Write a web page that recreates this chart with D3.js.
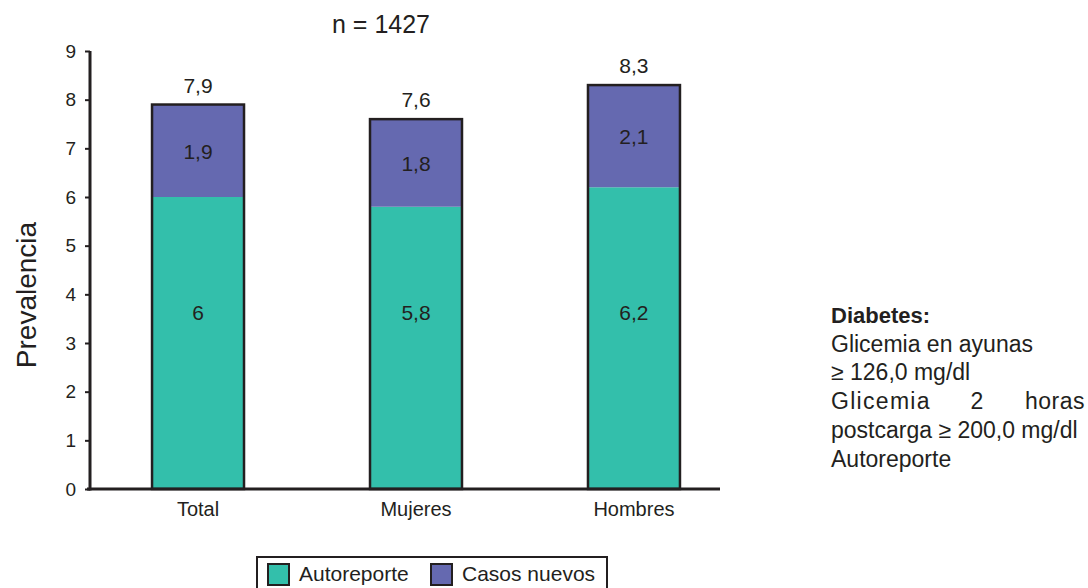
<!DOCTYPE html>
<html>
<head>
<meta charset="utf-8">
<script src="https://cdn.jsdelivr.net/npm/d3@7"></script>
<style>
    body { margin: 0; background: #fff; }
    text { font-family: "Liberation Sans", Arial, sans-serif; fill: #231f20; }
</style>
</head>
<body>
<div id="chart"></div>
<script>
var categories = ["Total", "Mujeres", "Hombres"];
var autoreporte = [6, 5.8, 6.2];
var casosNuevos = [1.9, 1.8, 2.1];
var totales = [7.9, 7.6, 8.3];
var yTicks = [0, 1, 2, 3, 4, 5, 6, 7, 8, 9];
var seriesNames = ["Autoreporte", "Casos nuevos"];
var seriesColors = ["#33bfab", "#6569b0"];
var notes = ["Glicemia en ayunas", "\u2265 126,0 mg/dl", "Glicemia 2 horas", "postcarga \u2265 200,0 mg/dl", "Autoreporte"];

var svg = d3.select("#chart").append("svg").attr("width", 1088).attr("height", 588);

var x = d3.scaleBand().domain(categories).range([91, 741]).paddingInner(0.578).paddingOuter(0.28);
var y = d3.scaleLinear().domain([0, 9]).range([489, 51]);

function fmt(v) {
    return String(v).replace(".", ",");
}

// title
svg.append("text").attr("x", 381).attr("y", 33).attr("text-anchor", "middle")
    .style("font-size", "25px").text("n = 1427");

// y label
svg.append("text").attr("transform", "translate(36,295) rotate(-90)").attr("text-anchor", "middle")
    .style("font-size", "28px").text("Prevalencia");

// bars
var data = categories.map(function (c, i) {
    return {cat: c, auto: autoreporte[i], nuevos: casosNuevos[i], total: totales[i]};
});

var g = svg.append("g");
data.forEach(function (d) {
    var x0 = x(d.cat), w = x.bandwidth();
    g.append("rect").attr("x", x0).attr("y", y(d.auto)).attr("width", w)
        .attr("height", y(0) - y(d.auto)).attr("fill", seriesColors[0]);
    g.append("rect").attr("x", x0).attr("y", y(d.auto + d.nuevos)).attr("width", w)
        .attr("height", y(d.auto) - y(d.auto + d.nuevos)).attr("fill", seriesColors[1]);
    g.append("rect").attr("x", x0).attr("y", y(d.auto + d.nuevos)).attr("width", w)
        .attr("height", y(0) - y(d.auto + d.nuevos)).attr("fill", "none")
        .attr("stroke", "#231f20").attr("stroke-width", 2.5);

    var cx = x0 + w / 2;
    g.append("text").attr("x", cx).attr("y", y(d.auto + d.nuevos) - 12).attr("text-anchor", "middle")
        .style("font-size", "21px").text(fmt(d.total));
    g.append("text").attr("x", cx).attr("y", (y(d.auto) + y(d.auto + d.nuevos)) / 2 + 8).attr("text-anchor", "middle")
        .style("font-size", "21px").text(fmt(d.nuevos));
    g.append("text").attr("x", cx).attr("y", 320).attr("text-anchor", "middle")
        .style("font-size", "21px").text(fmt(d.auto));
});

// y axis
var yAxis = svg.append("g").attr("transform", "translate(90,0)")
    .call(d3.axisLeft(y).tickValues(yTicks).tickSize(5).tickPadding(9).tickFormat(d3.format("d")));
yAxis.select(".domain").remove();
yAxis.selectAll(".tick line").attr("stroke", "#231f20").attr("stroke-width", 2);
yAxis.selectAll(".tick text").style("font-size", "19px").style("font-family", "Liberation Sans, Arial, sans-serif").attr("fill", "#231f20");
svg.append("line").attr("x1", 90).attr("x2", 90).attr("y1", y(9)).attr("y2", y(0) + 1.5)
    .attr("stroke", "#231f20").attr("stroke-width", 3);

// x axis
svg.append("line").attr("x1", 87).attr("x2", 720).attr("y1", y(0)).attr("y2", y(0))
    .attr("stroke", "#231f20").attr("stroke-width", 3);
svg.selectAll(".cat").data(categories).enter().append("text")
    .attr("x", function (d) { return x(d) + x.bandwidth() / 2; })
    .attr("y", 516).attr("text-anchor", "middle").style("font-size", "20px")
    .text(function (d) { return d; });

// legend
var leg = svg.append("g");
leg.append("rect").attr("x", 257).attr("y", 557).attr("width", 350).attr("height", 40)
    .attr("fill", "#fff").attr("stroke", "#231f20").attr("stroke-width", 2);
var legX = [268, 431];
seriesNames.forEach(function (s, i) {
    leg.append("rect").attr("x", legX[i]).attr("y", 564).attr("width", 21).attr("height", 21)
        .attr("fill", seriesColors[i]).attr("stroke", "#231f20").attr("stroke-width", 2);
    leg.append("text").attr("x", legX[i] + 31).attr("y", 581).style("font-size", "21px").text(s);
});

// notes
var nt = svg.append("g");
nt.append("text").attr("x", 831).attr("y", 323).style("font-size", "22px").style("font-weight", "bold").text("Diabetes:");
notes.forEach(function (t, i) {
    var yy = 323 + 28.7 * (i + 1);
    if (i == 2) {
        var words = t.split(" ");
        nt.append("text").attr("x", 831).attr("y", yy).style("font-size", "23px").style("letter-spacing", "1.3px").text(words[0]);
        nt.append("text").attr("x", 977).attr("y", yy).attr("text-anchor", "middle").style("font-size", "23px").text(words[1]);
        nt.append("text").attr("x", 1085).attr("y", yy).attr("text-anchor", "end").style("font-size", "23px").style("letter-spacing", "0.5px").text(words[2]);
    } else {
        nt.append("text").attr("x", 831).attr("y", yy).style("font-size", "23px").text(t);
    }
});
</script>
</body>
</html>
